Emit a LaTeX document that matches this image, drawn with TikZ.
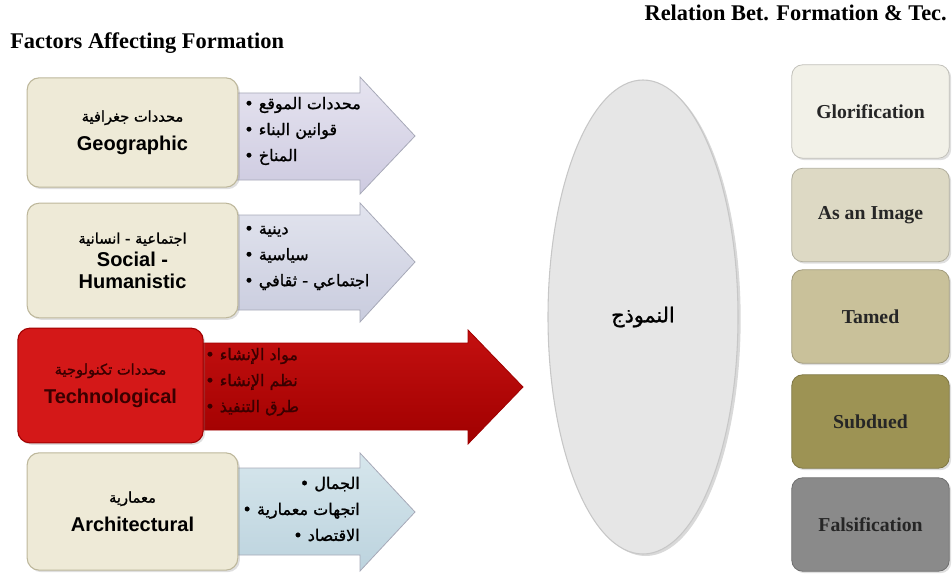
\documentclass[tikz,border=0pt]{standalone}
\usepackage{fontspec}
\setmainfont{Liberation Serif}
\newfontfamily\labelfont{Liberation Sans}
\newfontfamily\arabicfont[Script=Arabic, FakeBold=1.2]{DejaVu Sans}
\TeXXeTstate=1
\usepackage{tikz}
\usetikzlibrary{shapes.geometric, shadows, positioning}
\definecolor{boxcream}{HTML}{EEEAD7}
\definecolor{boxedge}{HTML}{BDB79B}
\definecolor{geotop}{HTML}{E6E4F0}
\definecolor{geobot}{HTML}{CDCAE0}
\definecolor{soctop}{HTML}{E2E4EE}
\definecolor{socbot}{HTML}{C9CCDE}
\definecolor{techtop}{HTML}{C41010}
\definecolor{techbot}{HTML}{A00000}
\definecolor{techbox}{HTML}{D41818}
\definecolor{techtext}{HTML}{3A0000}
\definecolor{archtop}{HTML}{D6E6EC}
\definecolor{archbot}{HTML}{BCD3DE}
\definecolor{arrowedge}{HTML}{A7A9B8}
\definecolor{ovalgray}{HTML}{E6E6E6}
\definecolor{glorifill}{HTML}{F2F1E8}
\definecolor{imagefill}{HTML}{DDD9C4}
\definecolor{tamedfill}{HTML}{C9C19A}
\definecolor{subduedfill}{HTML}{9D9354}
\definecolor{falsefill}{HTML}{8A8A8A}
\newcommand\arhead{\arabicfont\fontsize{11}{13}\selectfont}
\newcommand\enhead{\labelfont\fontsize{15}{17}\selectfont\bfseries}

\begin{document}
\begin{tikzpicture}[
    x=0.75pt, y=-0.75pt,
    factorbox/.style={rectangle, draw=boxedge, fill=boxcream, line width=0.8pt,
                      rounded corners=9pt, minimum width=158pt, align=center,
                      drop shadow={opacity=0.25, shadow xshift=1.5pt, shadow yshift=-1.5pt}},
    arrowshape/.style={draw=arrowedge, line width=0.6pt},
    bulletlist/.style={font=\arabicfont\fontsize{12}{19.5}\selectfont, align=left, inner sep=0pt},
    stagebox/.style={rectangle, draw=#1!80!black, fill=#1, line width=0.6pt,
                     rounded corners=8pt, minimum width=118pt, minimum height=70pt,
                     font=\fontsize{14.8}{16}\selectfont\bfseries, text=black!85,
                     drop shadow={opacity=0.25, shadow xshift=1.5pt, shadow yshift=-1.5pt}},
    heading/.style={font=\fontsize{16.8}{18}\selectfont\bfseries, inner sep=0pt}
]
\useasboundingbox (0,0) rectangle (952,574);

% Headings
\node[heading, anchor=west] (factors) at (10,43) {Factors Affecting Formation};
\node[heading, anchor=east] (relation) at (947,13) {Relation Bet. Formation \& Tec.};

% Arrows behind the factor boxes
\path[arrowshape, top color=geotop, bottom color=geobot]
    (230,93) -- (360,93) -- (360,77) -- (415,136) -- (360,194) -- (360,180) -- (230,180) -- cycle;
\path[arrowshape, top color=soctop, bottom color=socbot]
    (230,215) -- (360,215) -- (360,203) -- (415,262) -- (360,322) -- (360,310) -- (230,310) -- cycle;
\path[draw=techbot, top color=techtop, bottom color=techbot, line width=0.6pt]
    (195,343) -- (468,343) -- (468,330) -- (523,387) -- (468,444) -- (468,430) -- (195,430) -- cycle;
\path[arrowshape, top color=archtop, bottom color=archbot]
    (230,468) -- (360,468) -- (360,453) -- (415,512) -- (360,571) -- (360,555) -- (230,555) -- cycle;

% Factor boxes
\node[factorbox, minimum height=82pt] (geo) at (132.5,132.5)
    {\arhead\beginR محددات جغرافية\endR\\[7pt]
     \enhead Geographic};
\node[factorbox, minimum height=86pt] (social) at (132.5,260.5)
    {\arhead\beginR اجتماعية - انسانية\endR\\[4pt]
     \enhead Social -\\[4pt]\enhead Humanistic};
\node[factorbox, draw=techbot, fill=techbox, minimum width=139pt, minimum height=86pt,
      text=techtext] (tech) at (110.5,385.5)
    {\arhead\beginR محددات تكنولوجية\endR\\[7pt]
     \enhead Technological};
\node[factorbox, minimum height=88pt] (arch) at (132.5,511.5)
    {\arhead\beginR معمارية\endR\\[7pt]
     \enhead Architectural};

% Bullet lists on the arrows
\node[bulletlist, anchor=west] (geo-list) at (244,131)
    {\textbullet\ \beginR محددات الموقع\endR\\
     \textbullet\ \beginR قوانين البناء\endR\\
     \textbullet\ \beginR المناخ\endR};
\node[bulletlist, anchor=west] (social-list) at (244,258)
    {\textbullet\ \beginR دينية\endR\\
     \textbullet\ \beginR سياسية\endR\\
     \textbullet\ \beginR اجتماعي - ثقافي\endR};
\node[bulletlist, anchor=west, text=techtext] (tech-list) at (205,382)
    {\textbullet\ \beginR مواد الإنشاء\endR\\
     \textbullet\ \beginR نظم الإنشاء\endR\\
     \textbullet\ \beginR طرق التنفيذ\endR};
\node[bulletlist, anchor=east, align=right] (arch-list) at (360,509)
    {\textbullet\ \beginR الجمال\endR\\
     \textbullet\ \beginR اتجهات معمارية\endR\\
     \textbullet\ \beginR الاقتصاد\endR};

% The model
\node[ellipse, draw=black!22, fill=ovalgray, line width=0.8pt,
      minimum width=142.5pt, minimum height=355.5pt,
      drop shadow={opacity=0.3, shadow xshift=2pt, shadow yshift=-1.5pt},
      font=\arabicfont\fontsize{15.5}{17}\selectfont] (model) at (643,317)
    {\beginR النموذج\endR};

% Relation stages
\node[stagebox=glorifill] (glori) at (870.5,111.5) {Glorification};
\node[stagebox=imagefill] (image) at (870.5,215) {As an Image};
\node[stagebox=tamedfill] (tamed) at (870.5,316.5) {Tamed};
\node[stagebox=subduedfill] (subdued) at (870.5,421.5) {Subdued};
\node[stagebox=falsefill] (falsi) at (870.5,524.5) {Falsification};

\end{tikzpicture}
\end{document}
